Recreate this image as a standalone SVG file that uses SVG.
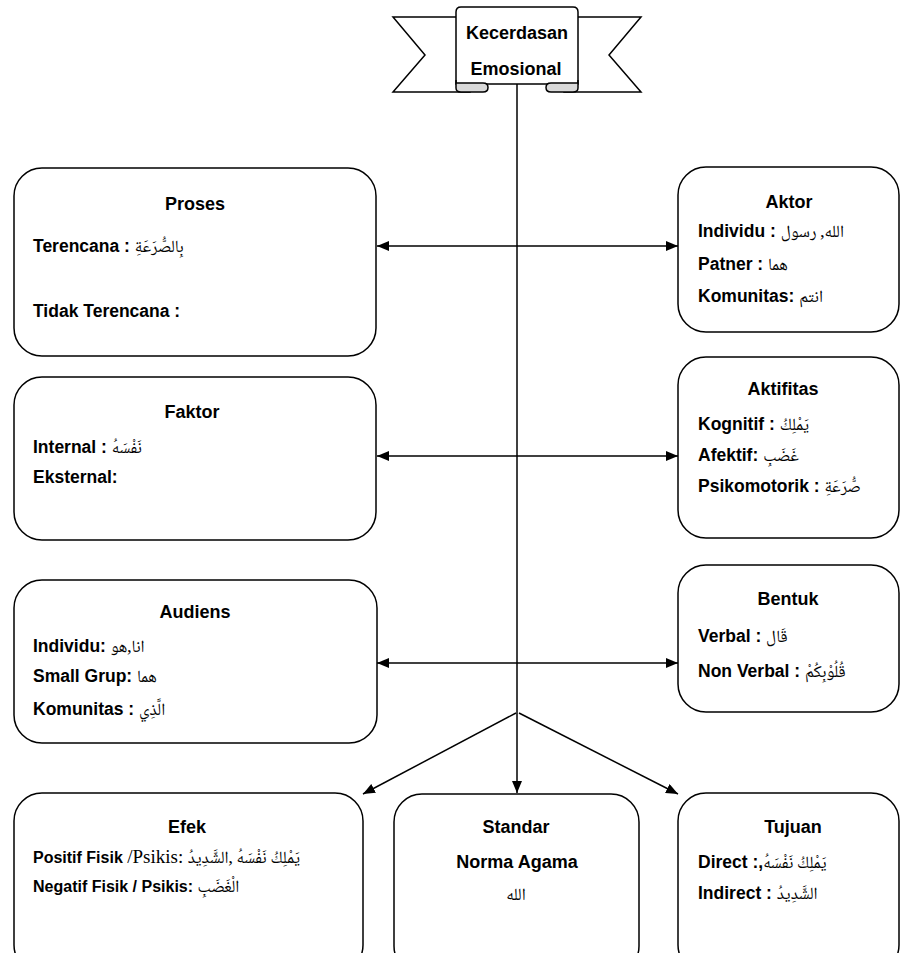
<svg xmlns="http://www.w3.org/2000/svg" width="902" height="953" viewBox="0 0 902 953">
<style>
.box{fill:#fff;stroke:#000;stroke-width:1.5}
.t{font-family:"Liberation Sans",Arial,sans-serif;font-weight:bold;font-size:17.5px;fill:#000}
.h{font-size:18px}
.sm{font-size:16px}
.c{text-anchor:middle}
.ar{font-family:"Noto Naskh Arabic","Noto Sans Arabic","DejaVu Sans",serif;font-weight:normal;font-size:17px}
.sr{font-family:"Liberation Serif","Times New Roman",serif;font-weight:normal;font-size:19px}
.ln{stroke:#000;stroke-width:1.5;fill:none}
.rb{fill:#fff;stroke:#000;stroke-width:1.5}
.curl{fill:#d9d9d9;stroke:#000;stroke-width:1.5}
</style>
<defs>
<marker id="ah" viewBox="0 0 12 10" refX="12" refY="5" markerWidth="12" markerHeight="10" orient="auto-start-reverse" markerUnits="userSpaceOnUse">
<path d="M0,0 L12,5 L0,10 Z" fill="#000"/>
</marker>
</defs>

<g id="connectors">
<path class="ln" d="M517,84 L517,793" marker-end="url(#ah)"/>
<path class="ln" d="M516,713 L363,794" marker-end="url(#ah)"/>
<path class="ln" d="M519,713 L678,794" marker-end="url(#ah)"/>
<path class="ln" d="M377,246 L678,246" marker-start="url(#ah)" marker-end="url(#ah)"/>
<path class="ln" d="M377,456 L678,456" marker-start="url(#ah)" marker-end="url(#ah)"/>
<path class="ln" d="M377,663 L678,663" marker-start="url(#ah)" marker-end="url(#ah)"/>
</g>

<g id="kecerdasan">
<path class="rb" d="M393,17 L470,17 L470,92 L393,92 L425,55 Z"/>
<path class="rb" d="M641,17 L564,17 L564,92 L641,92 L609,55 Z"/>
<path class="rb" d="M456,12 Q456,7 461,7 L573,7 Q578,7 578,12 L578,84 L456,84 Z"/>
<path class="curl" d="M456,80 L456,88 Q456,92 461,92 L483,92 Q488,92 488,87.5 Q488,83 483,83 L456,83"/>
<path class="curl" d="M578,80 L578,88 Q578,92 573,92 L551,92 Q546,92 546,87.5 Q546,83 551,83 L578,83"/>
<text class="t h c" x="517" y="39">Kecerdasan</text>
<text class="t h c" x="516" y="75">Emosional</text>
</g>

<g id="proses">
<rect class="box" x="14" y="168" width="362" height="188" rx="28"/>
<text class="t h c" x="195" y="210">Proses</text>
<text class="t" x="33" y="252">Terencana : <tspan class="ar">بِالصُّرَعَةِ</tspan></text>
<text class="t" x="33" y="317">Tidak Terencana :</text>
</g>

<g id="aktor">
<rect class="box" x="678" y="167" width="221" height="165" rx="28"/>
<text class="t h c" x="789" y="208">Aktor</text>
<text class="t" x="698" y="237">Individu : <tspan class="ar">الله, رسول</tspan></text>
<text class="t" x="698" y="270">Patner : <tspan class="ar">هما</tspan></text>
<text class="t" x="698" y="302">Komunitas: <tspan class="ar">انتم</tspan></text>
</g>

<g id="faktor">
<rect class="box" x="14" y="377" width="362" height="163" rx="28"/>
<text class="t h c" x="192" y="418">Faktor</text>
<text class="t" x="33" y="453">Internal : <tspan class="ar">نَفْسَهُ</tspan></text>
<text class="t" x="33" y="483">Eksternal:</text>
</g>

<g id="aktifitas">
<rect class="box" x="678" y="357" width="221" height="181" rx="28"/>
<text class="t h c" x="783" y="395">Aktifitas</text>
<text class="t" x="698" y="430">Kognitif : <tspan class="ar">يَمْلِكُ</tspan></text>
<text class="t" x="698" y="461">Afektif: <tspan class="ar">غَضَبِ</tspan></text>
<text class="t" x="698" y="492">Psikomotorik : <tspan class="ar">صُّرَعَةِ</tspan></text>
</g>

<g id="audiens">
<rect class="box" x="14" y="580" width="363" height="163" rx="28"/>
<text class="t h c" x="195" y="618">Audiens</text>
<text class="t" x="33" y="652">Individu: <tspan class="ar">انا,هو</tspan></text>
<text class="t" x="33" y="682">Small Grup: <tspan class="ar">هما</tspan></text>
<text class="t" x="33" y="715">Komunitas : <tspan class="ar">الَّذِي</tspan></text>
</g>

<g id="bentuk">
<rect class="box" x="678" y="565" width="221" height="147" rx="28"/>
<text class="t h c" x="788" y="605">Bentuk</text>
<text class="t" x="698" y="642">Verbal : <tspan class="ar">قَال</tspan></text>
<text class="t" x="698" y="677">Non Verbal : <tspan class="ar">قُلُوْبِكُمْ</tspan></text>
</g>

<g id="efek">
<rect class="box" x="14" y="793" width="349" height="180" rx="28"/>
<text class="t h c" x="187" y="833">Efek</text>
<text class="t sm" x="33" y="863">Positif Fisik <tspan class="sr">/Psikis:</tspan> <tspan class="ar">يَمْلِكُ نَفْسَهُ ,الشَّدِيدُ</tspan></text>
<text class="t sm" x="33" y="892">Negatif Fisik / Psikis: <tspan class="ar">الْغَضَبِ</tspan></text>
</g>

<g id="standar">
<rect class="box" x="394" y="794" width="245" height="180" rx="28"/>
<text class="t h c" x="516" y="833">Standar</text>
<text class="t h c" x="517" y="868">Norma Agama</text>
<text class="ar c" x="516" y="900">الله</text>
</g>

<g id="tujuan">
<rect class="box" x="678" y="793" width="221" height="180" rx="28"/>
<text class="t h c" x="793" y="833">Tujuan</text>
<text class="t" x="698" y="868">Direct :,<tspan class="ar">يَمْلِكُ نَفْسَهُ</tspan></text>
<text class="t" x="698" y="899">Indirect : <tspan class="ar">الشَّدِيدُ</tspan></text>
</g>
</svg>
